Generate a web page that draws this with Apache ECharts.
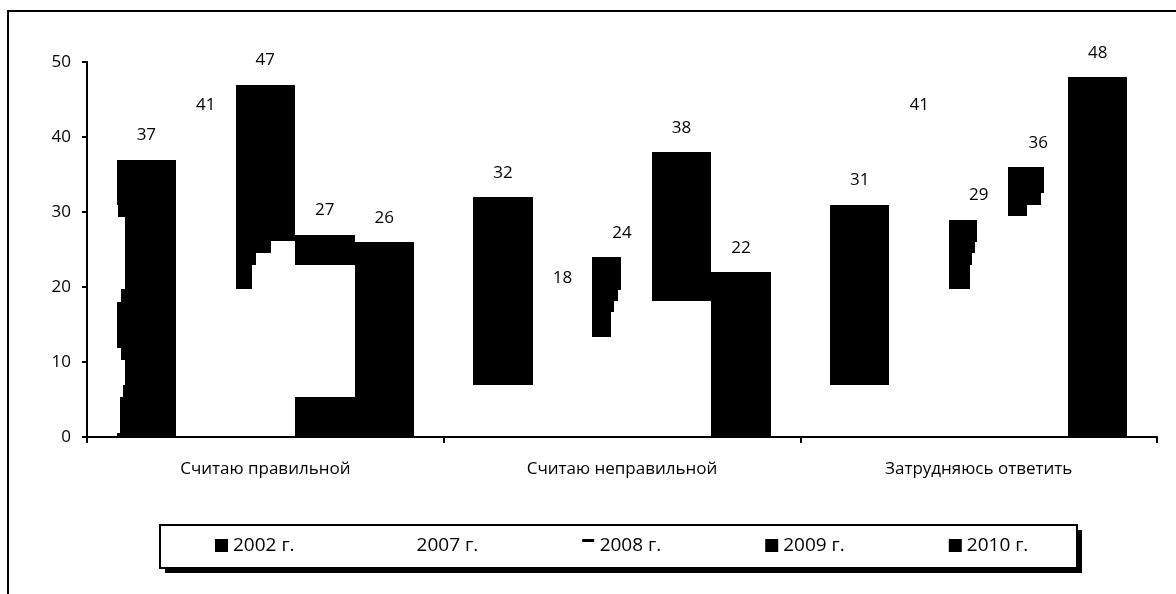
<!DOCTYPE html>
<html>
<head>
<meta charset="utf-8">
<script src="https://cdn.jsdelivr.net/npm/echarts@6/dist/echarts.min.js"></script>
<style>html,body{margin:0;padding:0;background:#fff;}#c{width:1176px;height:594px;}</style>
</head>
<body>
<div id="c"></div>
<script>
// ---- data ----
const categories = ['Считаю правильной', 'Считаю неправильной', 'Затрудняюсь ответить'];
const years = ['2002 г.', '2007 г.', '2008 г.', '2009 г.', '2010 г.'];
const v2002 = [37, 32, 31];
const v2007 = [41, 18, 41];
const v2008 = [47, 24, 29];
const v2009 = [27, 38, 36];
const v2010 = [26, 22, 48];
const yTicks = [0, 10, 20, 30, 40, 50];

// How much of each bar actually got painted in the picture (the original render is broken):
// pieces [lowerValue, leftFrac, rightFrac], going down from the bar top.
const fill2002 = [
  [[30.9,0,1],[29.4,0.02,1],[19.7,0.135,1],[18,0.08,1],[11.9,0,1],[10.3,0.067,1],[6.9,0.135,1],[5.4,0.1,1],[0.5,0.055,1],[0,0,1]],
  [[6.9,0,1]],
  [[6.9,0,1]]
];
const fill2007 = [[], [], []];
const fill2008 = [
  [[26.1,0,1],[24.5,0,0.6],[23,0,0.34],[19.7,0,0.27]],
  [[22.9,0,0.49],[19.6,0,0.48],[18.1,0,0.43],[16.7,0,0.36],[13.4,0,0.31]],
  [[26,0,0.48],[24.5,0,0.44],[22.9,0,0.39],[19.8,0,0.35]]
];
const fill2009 = [
  [[23,0,1],[5.4,0,0],[0,0,1]],
  [[18.1,0,1]],
  [[32.5,0,0.6],[30.9,0,0.54],[29.5,0,0.32]]
];
const fill2010 = [[[0,0,1]], [[0,0,1]], [[0,0,1]]];

const values = [v2002, v2007, v2008, v2009, v2010];
const fills = [fill2002, fill2007, fill2008, fill2009, fill2010];
const colors = ['#000', '#fff', '#000', '#000', '#000'];

const FONT = "'Open Sans', 'Noto Sans', sans-serif";
const CAT_GAP = 0.166;

function makeRender(yi) {
  return function (params, api) {
    const c = api.value(0);
    const v = api.value(1);
    const base = api.coord([c, 0]);
    const band = api.size([1, 0])[0];
    const slot = band * (1 - CAT_GAP) / years.length;
    const x0 = base[0] - slot * years.length / 2 + yi * slot;
    const children = [];
    let top = v;
    const pieces = fills[yi][c] || [];
    pieces.forEach(function (p) {
      const lo = p[0];
      const yTop = Math.round(api.coord([c, top])[1]);
      const yLo = Math.round(api.coord([c, lo])[1]);
      const xL = Math.round(x0 + p[1] * slot);
      const xR = Math.round(x0 + p[2] * slot);
      if (xR > xL && yLo > yTop) {
        children.push({
          type: 'rect',
          shape: { x: xL, y: yTop, width: xR - xL, height: yLo - yTop },
          style: { fill: '#000' }
        });
      }
      top = lo;
    });
    const ly = api.coord([c, v])[1] - 24;
    children.push({
      type: 'text',
      style: {
        text: String(v), x: x0 + slot / 2, y: ly,
        fill: '#000', fontSize: 17, fontFamily: FONT,
        align: 'center', verticalAlign: 'middle'
      }
    });
    return { type: 'group', children: children };
  };
}

const series = years.map(function (name, yi) {
  return {
    name: name,
    type: 'custom',
    renderItem: makeRender(yi),
    itemStyle: { color: colors[yi] },
    encode: { x: 0, y: 1 },
    data: values[yi].map(function (val, ci) { return [ci, val]; }),
    z: 3
  };
});

const chart = echarts.init(document.getElementById('c'), null, { renderer: 'canvas' });
chart.setOption({
  animation: false,
  backgroundColor: '#fff',
  textStyle: { fontFamily: FONT },
  grid: { left: 87, right: 19, top: 62, bottom: 157, containLabel: false },
  xAxis: {
    type: 'category',
    data: categories,
    boundaryGap: true,
    axisLine: { lineStyle: { color: '#000', width: 2 } },
    axisTick: { show: true, inside: false, length: 6, alignWithLabel: false, lineStyle: { color: '#000', width: 2 } },
    axisLabel: { color: '#000', fontSize: 17, fontFamily: FONT, margin: 24 },
    splitLine: { show: false }
  },
  yAxis: {
    type: 'value',
    min: 0, max: 50, interval: 10,
    axisLine: { show: true, lineStyle: { color: '#000', width: 2 } },
    axisTick: { show: true, length: 5, lineStyle: { color: '#000', width: 2 } },
    axisLabel: { color: '#000', fontSize: 17, fontFamily: FONT, margin: 16,
      formatter: function (val) { return yTicks.indexOf(val) >= 0 ? String(val) : ''; } },
    splitLine: { show: false }
  },
  legend: {
    left: 215, top: 536,
    padding: 0,
    itemGap: 104,
    itemWidth: 13, itemHeight: 13,
    selectedMode: false,
    textStyle: { color: '#000', fontSize: 19, fontFamily: FONT },
    data: [
      { name: '2002 г.', icon: 'rect' },
      { name: '2007 г.', icon: 'rect' },
      { name: '2008 г.', icon: 'path://M0,0H12V3H0Z M0,13H0.01V13.01H0Z' },
      { name: '2009 г.', icon: 'rect' },
      { name: '2010 г.', icon: 'rect' }
    ]
  },
  graphic: [
    { type: 'rect', silent: true, z: -10, shape: { x: 8, y: 11, width: 1400, height: 800 },
      style: { fill: 'none', stroke: '#000', lineWidth: 2 } },
    { type: 'rect', silent: true, z: -9, shape: { x: 165, y: 530, width: 917, height: 43 },
      style: { fill: '#000' } },
    { type: 'rect', silent: true, z: -8, shape: { x: 160, y: 525, width: 917, height: 43 },
      style: { fill: '#fff', stroke: '#000', lineWidth: 2 } }
  ],
  series: series
});
</script>
</body>
</html>
